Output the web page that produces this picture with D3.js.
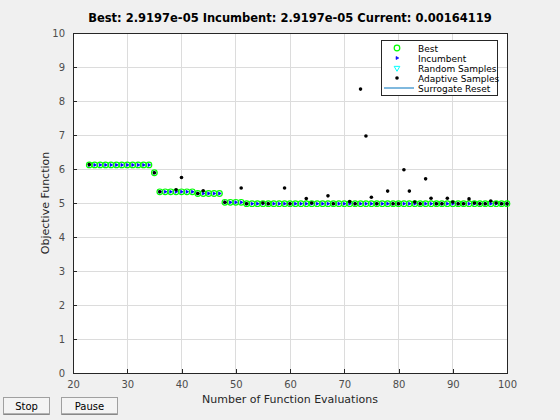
<!DOCTYPE html>
<html>
<head>
<meta charset="utf-8">
<script src="https://cdn.jsdelivr.net/npm/d3@7"></script>
<style>
  html, body { margin: 0; padding: 0; background: #f0f0f0; }
  svg { display: block; font-family: "DejaVu Sans", sans-serif; }
</style>
</head>
<body>
<svg id="chart" width="560" height="420"></svg>
<script>
// ---- data ----
const titleText = "Best: 2.9197e-05 Incumbent: 2.9197e-05 Current: 0.00164119";
const xLabel = "Number of Function Evaluations";
const yLabel = "Objective Function";
const xTicks = [20, 30, 40, 50, 60, 70, 80, 90, 100];
const yTicks = [0, 1, 2, 3, 4, 5, 6, 7, 8, 9, 10];
const legendLabels = ["Best", "Incumbent", "Random Samples", "Adaptive Samples", "Surrogate Reset"];
const buttonLabels = ["Stop", "Pause"];

const evals = [23,24,25,26,27,28,29,30,31,32,33,34,35,36,37,38,39,40,41,42,43,44,45,46,47,48,49,50,
  51,52,53,54,55,56,57,58,59,60,61,62,63,64,65,66,67,68,69,70,71,72,73,74,75,76,77,78,79,80,
  81,82,83,84,85,86,87,88,89,90,91,92,93,94,95,96,97,98,99,100];
const bestValues = [6.12,6.12,6.12,6.12,6.12,6.12,6.12,6.12,6.12,6.12,6.12,6.12,5.89,
  5.33,5.33,5.33,5.33,5.33,5.33,5.33,5.28,5.28,5.28,5.28,5.28,5.02,5.02,5.02,5.02,
  4.98,4.98,4.98,4.98,4.98,4.98,4.98,4.98,4.98,4.98,4.98,4.98,4.98,4.98,4.98,4.98,4.98,
  4.98,4.98,4.98,4.98,4.98,4.98,4.98,4.98,4.98,4.98,4.98,4.98,4.98,4.98,4.98,4.98,4.98,
  4.98,4.98,4.98,4.98,4.98,4.98,4.98,4.98,4.98,4.98,4.98,4.98,4.98,4.98,4.98];
const incumbentValues = bestValues.slice();

const randomEvals = [24,25,26,27,28,29,30,31,32,33,34,37,38,41,42,45,46,47,49,50,53,54,57,58,61,62,65,66,69,70,77];
const randomValues = [6.12,6.12,6.12,6.12,6.12,6.12,6.12,6.12,6.12,6.12,6.12,5.33,5.33,5.33,5.33,5.28,5.28,5.28,5.02,5.02,
  4.98,4.98,4.98,4.98,4.98,4.98,4.98,4.98,4.98,4.98,4.98];

const adaptiveEvals = [23,35,36,39,40,43,44,48,51,52,55,56,59,60,63,64,67,68,71,72,73,74,75,76,78,79,80,
  81,82,83,84,85,86,87,88,89,90,91,92,93,94,95,96,97,98,99,100];
const adaptiveValues = [6.13,5.89,5.33,5.39,5.75,5.28,5.36,5.02,5.44,4.98,5.0,4.98,5.44,4.98,5.13,5.0,5.21,4.98,5.04,4.98,
  8.35,6.97,5.17,4.98,5.35,4.98,4.98,5.98,5.35,5.03,4.98,5.71,5.14,4.98,4.98,5.14,5.03,4.98,4.98,5.12,5.0,4.98,4.98,
  5.06,5.0,4.98,4.98];

// ---- layout ----
const svg = d3.select("#chart");
const L = 73, R = 507, T = 33, B = 373;
const x = d3.scaleLinear().domain([20, 100]).range([L, R]);
const y = d3.scaleLinear().domain([0, 10]).range([B, T]);

svg.append("rect").attr("x", L).attr("y", T).attr("width", R - L).attr("height", B - T).attr("fill", "#fff");

// grid
const g = svg.append("g");
g.selectAll("line.gx").data(xTicks).join("line")
  .attr("x1", d => x(d)).attr("x2", d => x(d)).attr("y1", T).attr("y2", B)
  .attr("stroke", "#dcdcdc").attr("stroke-width", 1).attr("shape-rendering", "crispEdges");
g.selectAll("line.gy").data(yTicks).join("line")
  .attr("y1", d => y(d)).attr("y2", d => y(d)).attr("x1", L).attr("x2", R)
  .attr("stroke", "#dcdcdc").attr("stroke-width", 1).attr("shape-rendering", "crispEdges");

// axes
const xAxis = d3.axisBottom(x).tickValues(xTicks).tickSizeInner(-4).tickSizeOuter(0).tickPadding(8);
const yAxis = d3.axisLeft(y).tickValues(yTicks).tickSizeInner(-4).tickSizeOuter(0).tickPadding(8);
const gx = svg.append("g").attr("transform", `translate(0,${B})`).call(xAxis);
const gy = svg.append("g").attr("transform", `translate(${L},0)`).call(yAxis);
[gx, gy].forEach(a => {
  a.selectAll("path").attr("stroke", "#262626").attr("shape-rendering", "crispEdges");
  a.selectAll("line").attr("stroke", "#262626").attr("shape-rendering", "crispEdges");
  a.selectAll("text").attr("fill", "#4d4d4d").style("font-size", "10px").style("font-family", "DejaVu Sans, sans-serif");
});
// top and right box
svg.append("line").attr("x1", L).attr("x2", R).attr("y1", T).attr("y2", T)
  .attr("stroke", "#262626").attr("shape-rendering", "crispEdges");
svg.append("line").attr("x1", R).attr("x2", R).attr("y1", T).attr("y2", B)
  .attr("stroke", "#262626").attr("shape-rendering", "crispEdges");

// labels
svg.append("text").attr("x", 290).attr("y", 22).attr("text-anchor", "middle")
  .style("font-size", "11.5px").style("font-weight", "bold").attr("fill", "#000").text(titleText);
svg.append("text").attr("x", 290).attr("y", 403).attr("text-anchor", "middle")
  .style("font-size", "11px").attr("fill", "#262626").text(xLabel);
svg.append("text").attr("transform", "translate(49,203) rotate(-90)").attr("text-anchor", "middle")
  .style("font-size", "11px").attr("fill", "#262626").text(yLabel);

// markers
const tri = d3.symbol().type(d3.symbolTriangle).size(14);
const triSmall = d3.symbol().type(d3.symbolTriangle).size(2.5);
const incSym = d3.symbol().type(d3.symbolTriangle).size(4);
const plot = svg.append("g");
const randomPts = randomEvals.map((e, i) => [e, randomValues[i]]);
const bestPts = evals.map((e, i) => [e, bestValues[i]]);
const incPts = evals.map((e, i) => [e, incumbentValues[i]]);
const adaptPts = adaptiveEvals.map((e, i) => [e, adaptiveValues[i]]);

plot.selectAll("path.rnd").data(randomPts).join("path")
  .attr("d", triSmall).attr("transform", d => `translate(${x(d[0])},${y(d[1])}) rotate(180)`)
  .attr("fill", "#00ffff").attr("stroke", "none");
plot.selectAll("circle.best").data(bestPts).join("circle")
  .attr("cx", d => x(d[0])).attr("cy", d => y(d[1])).attr("r", 2.8)
  .attr("fill", "none").attr("stroke", "#00ff00").attr("stroke-width", 1.2);
plot.selectAll("path.inc").data(incPts).join("path")
  .attr("d", incSym)
  .attr("transform", d => `translate(${x(d[0])},${y(d[1])}) rotate(90)`)
  .attr("fill", "#0000ff").attr("stroke", "#0000ff").attr("stroke-width", 0.7);
plot.selectAll("circle.ad").data(adaptPts).join("circle")
  .attr("cx", d => x(d[0])).attr("cy", d => y(d[1])).attr("r", 1.8)
  .attr("fill", "#000");

// legend
const lg = svg.append("g");
lg.append("rect").attr("x", 381.5).attr("y", 40.5).attr("width", 116).attr("height", 55)
  .attr("fill", "#fff").attr("stroke", "#262626").attr("stroke-width", 1);
const rowY = [48, 58, 68, 78, 88];
const mx = 397;
lg.append("circle").attr("cx", mx).attr("cy", rowY[0]).attr("r", 2.8).attr("fill", "none").attr("stroke", "#00ff00").attr("stroke-width", 1.2);
lg.append("path").attr("d", incSym).attr("transform", `translate(${mx},${rowY[1]}) rotate(90)`).attr("fill", "#0000ff").attr("stroke", "#0000ff").attr("stroke-width", 0.7);
lg.append("path").attr("d", tri).attr("transform", `translate(${mx},${rowY[2]}) rotate(180)`).attr("fill", "none").attr("stroke", "#00ffff");
lg.append("circle").attr("cx", mx).attr("cy", rowY[3]).attr("r", 1.8).attr("fill", "#000");
lg.append("line").attr("x1", 384).attr("x2", 414).attr("y1", rowY[4]).attr("y2", rowY[4]).attr("stroke", "#0072bd").attr("stroke-width", 1);
lg.selectAll("text.lt").data(legendLabels).join("text")
  .attr("x", 418).attr("y", (d, i) => rowY[i] + 3.5)
  .style("font-size", "9px").attr("fill", "#000").text(d => d);

// buttons
const btn = svg.append("g");
const bx = [3, 61], bw = [46, 56];
buttonLabels.forEach((t, i) => {
  btn.append("rect").attr("x", bx[i] + 0.5).attr("y", 397.5).attr("width", bw[i]).attr("height", 17)
    .attr("fill", "#f4f4f4").attr("stroke", "#a0a0a0");
  btn.append("line").attr("x1", bx[i] + 1).attr("x2", bx[i] + bw[i]).attr("y1", 414).attr("y2", 414).attr("stroke", "#707070");
  btn.append("text").attr("x", bx[i] + bw[i] / 2 + 0.5).attr("y", 410).attr("text-anchor", "middle")
    .style("font-size", "10px").attr("fill", "#000").text(t);
});
</script>
</body>
</html>
